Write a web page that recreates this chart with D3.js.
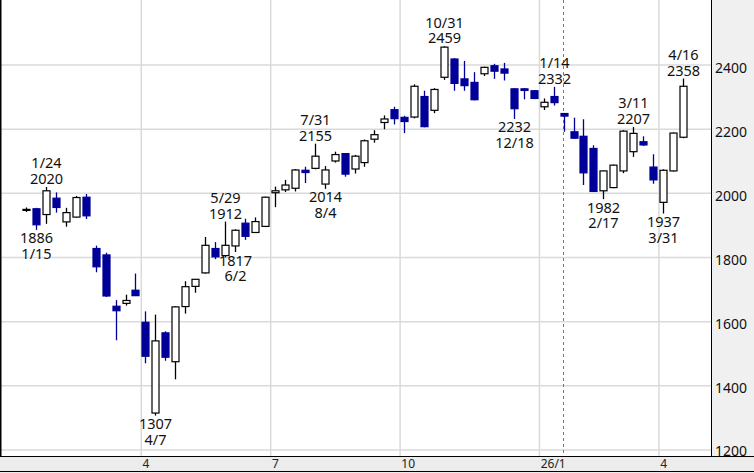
<!DOCTYPE html>
<html>

<head>
	<meta charset="utf-8">
	<script src="https://d3js.org/d3.v7.min.js"></script>

	<title> Weekly candles </title>

	<style>
		html,
		body {
			margin: 0;
			padding: 0;
			background: #fff;
		}

		svg {
			display: block;
			font-family: "Noto Sans", sans-serif;
		}
	</style>
</head>

<body>
	<svg id="chart" width="754" height="473"></svg>

	<script>
		// one candle per week (monday of the week)
		const weeks = [
			"2025-01-06", "2025-01-13", "2025-01-20", "2025-01-27", "2025-02-03", "2025-02-10", "2025-02-17", "2025-02-24",
			"2025-03-03", "2025-03-10", "2025-03-17", "2025-03-24", "2025-03-31", "2025-04-07", "2025-04-14", "2025-04-21",
			"2025-04-28", "2025-05-05", "2025-05-12", "2025-05-19", "2025-05-26", "2025-06-02", "2025-06-09", "2025-06-16",
			"2025-06-23", "2025-06-30", "2025-07-07", "2025-07-14", "2025-07-21", "2025-07-28", "2025-08-04", "2025-08-11",
			"2025-08-18", "2025-08-25", "2025-09-01", "2025-09-08", "2025-09-15", "2025-09-22", "2025-09-29", "2025-10-06",
			"2025-10-13", "2025-10-20", "2025-10-27", "2025-11-03", "2025-11-10", "2025-11-17", "2025-11-24", "2025-12-01",
			"2025-12-08", "2025-12-15", "2025-12-22", "2025-12-29", "2026-01-05", "2026-01-12", "2026-01-19", "2026-01-26",
			"2026-02-02", "2026-02-09", "2026-02-16", "2026-02-23", "2026-03-02", "2026-03-09", "2026-03-16", "2026-03-23",
			"2026-03-30", "2026-04-06", "2026-04-13"
		];

		const open = [
			1948, 1952, 1934, 1985, 1911, 1926, 1988, 1828, 1808, 1648,
			1657, 1698, 1598, 1315, 1565, 1475, 1647, 1710, 1752, 1828,
			1806, 1836, 1907, 1878, 1897, 2002, 2011, 2016, 2072, 2078,
			2029, 2101, 2124, 2076, 2096, 2169, 2221, 2261, 2237, 2238,
			2302, 2259, 2362, 2419, 2357, 2346, 2373, 2398, 2388, 2326,
			2326, 2320, 2270, 2302, 2249, 2192, 2178, 2140, 2008, 2018,
			2070, 2130, 2161, 2082, 1972, 2070, 2175
		];
		const high = [
			1956, 1955, 2020, 2003, 1955, 1992, 1998, 1837, 1815, 1667,
			1684, 1750, 1632, 1622, 1570, 1648, 1726, 1733, 1864, 1848,
			1912, 1888, 1921, 1925, 1990, 2021, 2042, 2076, 2083, 2155,
			2085, 2130, 2126, 2120, 2168, 2197, 2243, 2270, 2242, 2340,
			2320, 2328, 2459, 2422, 2413, 2378, 2395, 2404, 2407, 2328,
			2328, 2322, 2296, 2332, 2250, 2236, 2231, 2150, 2071, 2090,
			2197, 2207, 2178, 2122, 2075, 2190, 2358
		];
		const low = [
			1942, 1886, 1905, 1940, 1896, 1925, 1920, 1754, 1677, 1542,
			1650, 1680, 1470, 1307, 1478, 1420, 1625, 1690, 1750, 1795,
			1800, 1817, 1855, 1877, 1895, 1957, 2004, 2006, 2032, 2075,
			2014, 2096, 2052, 2062, 2083, 2158, 2200, 2215, 2188, 2234,
			2206, 2250, 2354, 2320, 2320, 2290, 2366, 2357, 2352, 2232,
			2293, 2294, 2260, 2274, 2192, 2170, 2026, 2005, 1982, 2016,
			2063, 2114, 2148, 2030, 1937, 2068, 2172
		];
		const close = [
			1950, 1902, 2008, 1956, 1940, 1987, 1930, 1771, 1680, 1634,
			1666, 1681, 1492, 1540, 1489, 1646, 1709, 1732, 1838, 1802,
			1838, 1885, 1866, 1912, 1988, 2008, 2026, 2073, 2065, 2116,
			2073, 2121, 2060, 2116, 2164, 2183, 2232, 2233, 2224, 2334,
			2208, 2324, 2456, 2343, 2336, 2292, 2393, 2381, 2375, 2264,
			2321, 2296, 2284, 2283, 2241, 2172, 2064, 2006, 2070, 2088,
			2194, 2187, 2151, 2042, 2072, 2188, 2334
		];

		// high / low marks
		const markWeeks = ["2025-01-13", "2025-01-20", "2025-04-07", "2025-05-26", "2025-06-02", "2025-07-28", "2025-08-04",
			"2025-10-27", "2025-12-15", "2026-01-12", "2026-02-16", "2026-03-09", "2026-03-30", "2026-04-13"];
		const markKinds = ["low", "high", "low", "high", "low", "high", "low", "high", "low", "high", "low", "high", "low", "high"];
		const markValues = [1886, 2020, 1307, 1912, 1817, 2155, 2014, 2459, 2232, 2332, 1982, 2207, 1937, 2358];
		const markDates = ["1/15", "1/24", "4/7", "5/29", "6/2", "7/31", "8/4", "10/31", "12/18", "1/14", "2/17", "3/11", "3/31", "4/16"];

		const yTicks = [1200, 1400, 1600, 1800, 2000, 2200, 2400];
		const xTickWeeks = ["2025-03-31", "2025-06-30", "2025-09-29", "2026-01-05", "2026-03-30"];
		const xTickLabels = ["4", "7", "10", "26/1", "4"];
		const dashedWeek = "2026-01-19";

		const plotRight = 711, plotBottom = 456, W = 754, H = 473;
		const upColor = "#ffffff", downColor = "#000099";

		const svg = d3.select("#chart");

		const x = d3.scaleBand().domain(weeks).range([21, 688]);			// band per week
		const y = d3.scaleLinear().domain([1181, 2603]).range([plotBottom, 0]);
		const cx = d => Math.round(x(d) + x.bandwidth() / 2);		// candle centre

		// grey panels for the axes
		svg.append("rect").attr("x", plotRight).attr("y", 0)
			.attr("width", W - plotRight).attr("height", plotBottom).attr("fill", "#f0f0f0");
		svg.append("rect").attr("x", 0).attr("y", plotBottom)
			.attr("width", W).attr("height", H - plotBottom).attr("fill", "#ececec");

		// grid
		svg.selectAll(".hgrid")
			.data(yTicks)
			.enter()
			.append("line")
			.attr("x1", 1).attr("x2", plotRight)
			.attr("y1", d => y(d)).attr("y2", d => y(d))
			.attr("stroke", "#dadada").attr("stroke-width", 1.5);

		svg.selectAll(".vgrid")
			.data(xTickWeeks)
			.enter()
			.append("line")
			.attr("x1", d => x(d) + 0.8).attr("x2", d => x(d) + 0.8)
			.attr("y1", 0).attr("y2", plotBottom)
			.attr("stroke", "#dadada").attr("stroke-width", 1.5);

		svg.append("line")
			.attr("x1", cx(dashedWeek) - 0.5).attr("x2", cx(dashedWeek) - 0.5)
			.attr("y1", 0).attr("y2", plotBottom)
			.attr("stroke", "#777").attr("stroke-width", 1)
			.attr("stroke-dasharray", "3,3");

		// candles
		const candles = weeks.map((w, i) => ({ w: w, o: open[i], h: high[i], l: low[i], c: close[i] }));

		const g = svg.append("g");
		g.selectAll(".wick")
			.data(candles)
			.enter()
			.append("line")
			.attr("x1", d => cx(d.w) + 0.5).attr("x2", d => cx(d.w) + 0.5)
			.attr("y1", d => y(d.h)).attr("y2", d => y(d.l))
			.attr("stroke", d => d.c >= d.o ? "#000" : downColor)
			.attr("stroke-width", 1.3);

		g.selectAll(".body")
			.data(candles)
			.enter()
			.append("rect")
			.attr("x", d => cx(d.w) - 3)
			.attr("width", 7)
			.attr("y", d => y(Math.max(d.o, d.c)))
			.attr("height", d => Math.max(1, Math.abs(y(d.o) - y(d.c))))
			.attr("fill", d => d.c >= d.o ? upColor : downColor)
			.attr("stroke", d => d.c >= d.o ? "#000" : downColor)
			.attr("stroke-width", 1.2);

		// high / low labels, two lines each
		const marks = markWeeks.map((w, i) => ({ w: w, kind: markKinds[i], v: markValues[i], date: markDates[i] }));

		function markLabel(cls, yPos, txt) {
			svg.selectAll("." + cls)
				.data(marks)
				.enter()
				.append("text")
				.attr("class", cls)
				.attr("text-anchor", "middle")
				.attr("font-size", "14.5px")
				.attr("fill", "#111")
				.attr("x", d => cx(d.w) + 0.5)
				.attr("y", yPos)
				.text(txt);
		}
		markLabel("mark-top", d => d.kind == "high" ? y(d.v) - 18.5 : y(d.v) + 13.5,
			d => d.kind == "high" ? d.date : d.v);
		markLabel("mark-bottom", d => d.kind == "high" ? y(d.v) - 3 : y(d.v) + 29,
			d => d.kind == "high" ? d.v : d.date);

		// axes
		const yAxis = svg.append("g")
			.attr("transform", "translate(" + plotRight + ",0)")
			.call(d3.axisRight(y).tickValues(yTicks).tickFormat(d3.format("d")).tickSize(0).tickPadding(4));
		yAxis.select(".domain").remove();
		yAxis.selectAll("text")
			.attr("dy", null)
			.attr("y", d => Math.min(y(d) + 7, 455) - y(d))
			.attr("font-family", "Noto Sans")
			.attr("font-size", "14px")
			.attr("fill", "#111");

		const xAxis = svg.append("g")
			.attr("transform", "translate(0," + plotBottom + ")")
			.call(d3.axisBottom(x).tickValues(xTickWeeks).tickFormat((d, i) => xTickLabels[i]).tickSize(0));
		xAxis.select(".domain").remove();
		xAxis.selectAll("text")
			.attr("dy", null)
			.attr("y", 12)
			.attr("x", -x.bandwidth() / 2 + 2)
			.attr("text-anchor", "start")
			.attr("font-family", "Noto Sans")
			.attr("font-size", "12px")
			.attr("fill", "#222");

		// frame
		svg.append("line").attr("x1", 0.75).attr("x2", 0.75).attr("y1", 0).attr("y2", plotBottom)
			.attr("stroke", "#000").attr("stroke-width", 1.5);
		svg.append("line").attr("x1", plotRight + 0.5).attr("x2", plotRight + 0.5).attr("y1", 0).attr("y2", plotBottom)
			.attr("stroke", "#000").attr("stroke-width", 1);
		svg.append("line").attr("x1", 0).attr("x2", W).attr("y1", plotBottom + 0.5).attr("y2", plotBottom + 0.5)
			.attr("stroke", "#000").attr("stroke-width", 1);
		svg.append("line").attr("x1", 0).attr("x2", W).attr("y1", H - 1.5).attr("y2", H - 1.5)
			.attr("stroke", "#000").attr("stroke-width", 1);
	</script>

</body>

</html>
